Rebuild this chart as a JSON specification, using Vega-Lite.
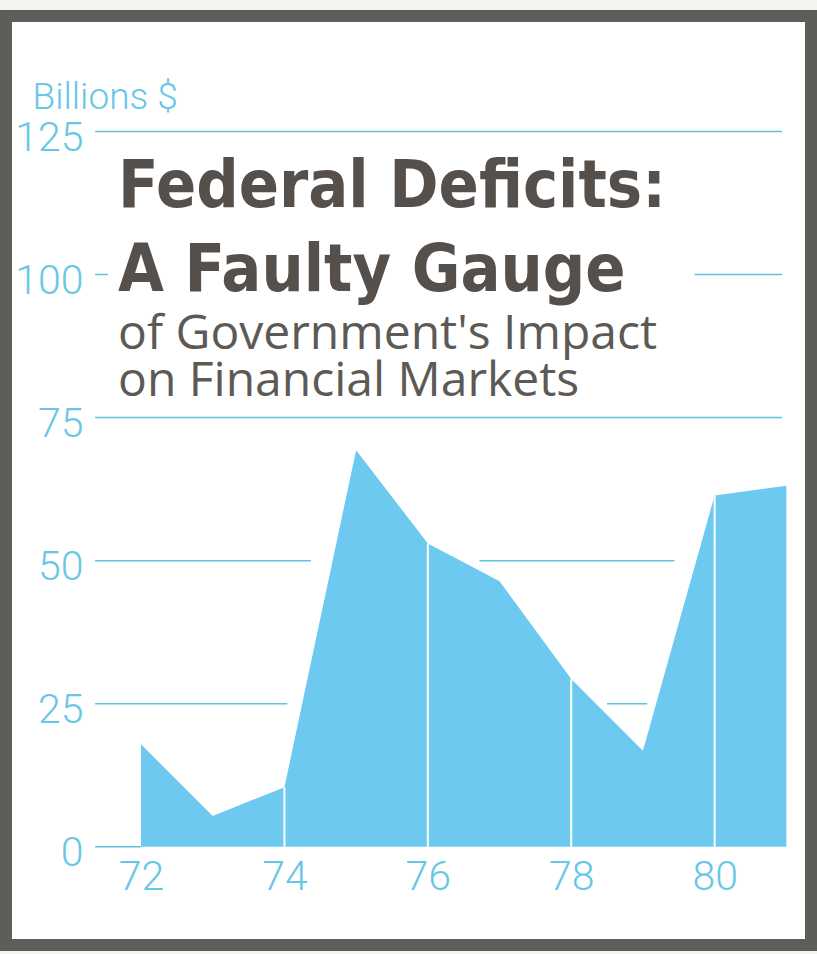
{
  "$schema": "https://vega.github.io/schema/vega-lite/v6.json",
  "width": 805,
  "height": 929,
  "autosize": "none",
  "padding": {"left": 6, "top": 16, "right": 6, "bottom": 9},
  "background": "#f4f4f1",
  "config": {
    "view": {"stroke": "#5e5d59", "strokeWidth": 12, "fill": "#ffffff"}
  },
  "title": {
    "text": ["Federal Deficits:", "A Faulty Gauge"],
    "subtitle": ["of Government's Impact", "on Financial Markets"],
    "orient": "top",
    "anchor": "start",
    "frame": "group",
    "dx": 112,
    "offset": -391,
    "font": "Liberation Sans Narrow, DejaVu Sans Condensed, sans-serif",
    "fontWeight": "bold",
    "fontSize": 66,
    "lineHeight": 84,
    "color": "#56504c",
    "subtitleFont": "Open Sans, sans-serif",
    "subtitleFontSize": 48,
    "subtitleFontWeight": 500,
    "subtitleColor": "#5d5955",
    "subtitleLineHeight": 47,
    "subtitlePadding": 6
  },
  "datasets": {
    "deficits": [
      {"year": 72, "value": 17.9},
      {"year": 73, "value": 5.4},
      {"year": 74, "value": 10.4},
      {"year": 75, "value": 69.3},
      {"year": 76, "value": 53.0},
      {"year": 77, "value": 46.4},
      {"year": 78, "value": 29.3},
      {"year": 79, "value": 16.8},
      {"year": 80, "value": 61.4},
      {"year": 81, "value": 63.1}
    ],
    "grid": [
      {"v": 125, "from": 71.36, "to": 80.94},
      {"v": 100, "from": 71.36, "to": 71.54},
      {"v": 100, "from": 79.72, "to": 80.94},
      {"v": 75, "from": 71.36, "to": 80.94},
      {"v": 50, "from": 71.36, "to": 74.37},
      {"v": 50, "from": 76.72, "to": 79.44},
      {"v": 25, "from": 71.36, "to": 74.04},
      {"v": 25, "from": 78.5, "to": 79.06},
      {"v": 0, "from": 71.36, "to": 72.0}
    ]
  },
  "layer": [
    {
      "data": {"name": "grid"},
      "mark": {"type": "rule", "color": "#5ec4e2", "strokeWidth": 1.5},
      "encoding": {
        "x": {"field": "from", "type": "quantitative", "scale": {"domain": [70.117, 81.344], "nice": false, "zero": false}},
        "x2": {"field": "to"},
        "y": {"field": "v", "type": "quantitative", "scale": {"domain": [-17.16, 145.17], "nice": false, "zero": false}}
      }
    },
    {
      "data": {"name": "deficits"},
      "mark": {"type": "area", "color": "#6dc9ef", "opacity": 1},
      "encoding": {
        "x": {
          "field": "year", "type": "quantitative",
          "scale": {"domain": [70.117, 81.344], "nice": false, "zero": false},
          "axis": {
            "orient": "bottom", "offset": -88, "values": [72, 74, 76, 78, 80], "format": "d",
            "domain": false, "ticks": false, "tickSize": 0, "grid": false,
            "labelPadding": 0, "labelBaseline": "top", "labelFlush": false, "labelOverlap": false,
            "labelFont": "Roboto, sans-serif", "labelFontWeight": 300,
            "labelFontSize": 41, "labelColor": "#68c6e6", "title": null
          }
        },
        "y": {
          "field": "value", "type": "quantitative",
          "scale": {"domain": [-17.16, 145.17], "nice": false, "zero": false},
          "axis": {
            "orient": "left", "offset": -77, "values": [0, 25, 50, 75, 100, 125],
            "domain": false, "ticks": false, "tickSize": 0, "grid": false,
            "labelPadding": 0, "labelOffset": 7, "labelFlush": false, "labelOverlap": false,
            "labelFont": "Roboto, sans-serif", "labelFontWeight": 300,
            "labelFontSize": 41, "labelColor": "#68c6e6",
            "title": "Billions $", "titleAngle": 0, "titleAlign": "left", "titleBaseline": "alphabetic",
            "titleX": -51, "titleY": 92,
            "titleFont": "Roboto, sans-serif",
            "titleFontSize": 37, "titleFontWeight": 300, "titleColor": "#68c6e6"
          }
        },
        "y2": {"datum": 0}
      }
    },
    {
      "data": {"name": "deficits"},
      "transform": [{"filter": {"field": "year", "oneOf": [74, 76, 78, 80]}}],
      "mark": {"type": "rule", "color": "#ffffff", "strokeWidth": 2},
      "encoding": {
        "x": {"field": "year", "type": "quantitative", "scale": {"domain": [70.117, 81.344], "nice": false, "zero": false}},
        "y": {"field": "value", "type": "quantitative", "scale": {"domain": [-17.16, 145.17], "nice": false, "zero": false}},
        "y2": {"datum": 0}
      }
    }
  ]
}
